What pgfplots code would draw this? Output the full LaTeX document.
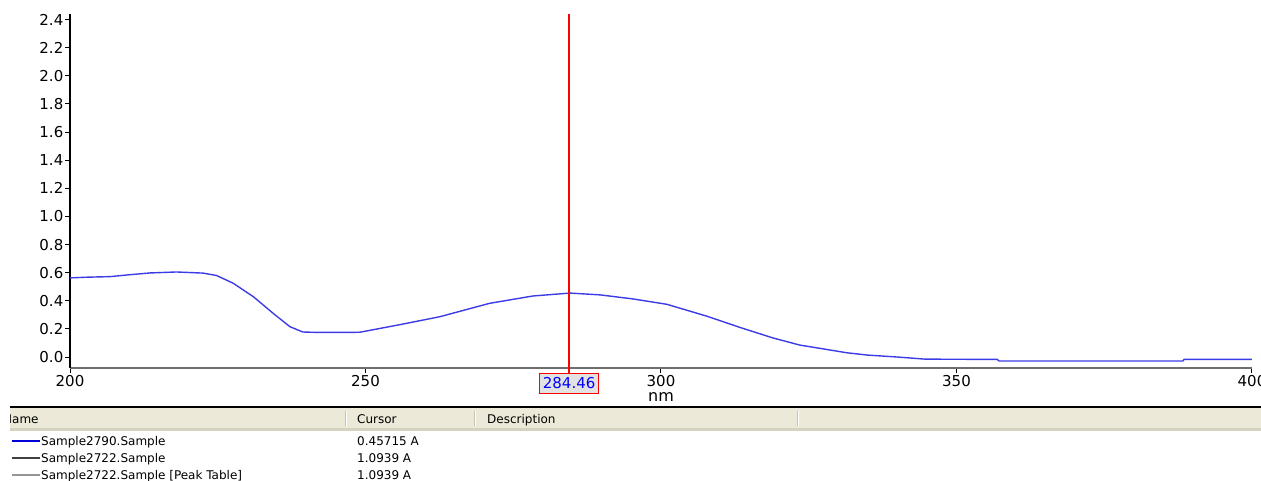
\documentclass[border=0pt]{standalone}
\usepackage{fontspec}
\setmainfont{DejaVu Sans}
\usepackage{pgfplots}
\pgfplotsset{compat=1.18}
\definecolor{curve}{RGB}{60,60,230}
\definecolor{cursorred}{RGB}{255,0,0}
\definecolor{beige}{RGB}{236,233,216}
\definecolor{beigedark}{RGB}{214,210,194}
\definecolor{sepc}{RGB}{199,195,178}
\definecolor{axgray}{RGB}{110,110,110}
\definecolor{boxfill}{RGB}{226,226,226}
\definecolor{dkgray}{RGB}{64,64,64}
\definecolor{ltgray}{RGB}{150,150,150}
\newcommand{\tickfont}{\fontsize{15}{17}\selectfont}
\newcommand{\tabfont}{\fontsize{12}{14}\selectfont}
\begin{document}
\begin{tikzpicture}
\useasboundingbox (0,0) rectangle (1261pt,481pt);
\fill[white] (0,0) rectangle (1261pt,481pt);
\begin{axis}[
  at={(70pt,113pt)}, anchor=south west,
  scale only axis, width=1182pt, height=354pt,
  xmin=200, xmax=400, ymin=-0.078, ymax=2.44,
  axis lines=left, clip=false,
  x axis line style={-, axgray, line width=2pt},
  y axis line style={-, black, line width=2pt},
  xtick={200,250,300,350,400},
  ytick={0,0.2,0.4,0.6,0.8,1.0,1.2,1.4,1.6,1.8,2.0,2.2,2.4},
  tick align=outside, major tick length=5pt,
  tick style={black, line width=1pt},
  xticklabel style={font=\tickfont, inner sep=2pt, /pgf/number format/assume math mode=true},
  yticklabel style={font=\tickfont, inner xsep=1.5pt, /pgf/number format/.cd, fixed, fixed zerofill, precision=1, assume math mode=true},
  xlabel={nm},
  xlabel style={at={(axis description cs:0.5,0)}, anchor=center, yshift=-29pt, font=\fontsize{16}{18}\selectfont, inner sep=0pt},
]
\addplot[color=curve, line width=1.4pt] table {
x y
200 0.563
203 0.568
206.8 0.572
210 0.585
213.5 0.598
218 0.605
222.5 0.597
224.8 0.58
227.6 0.525
231 0.43
234.4 0.31
237.2 0.216
239.4 0.178
242 0.175
249 0.176
255.8 0.23
262.6 0.287
271 0.382
278.3 0.434
284.6 0.455
289.7 0.442
295.3 0.413
301 0.375
307.8 0.29
313.4 0.21
319 0.135
323.5 0.085
331.5 0.03
334.9 0.014
340 0.0
344.7 -0.015
356.9 -0.017
357.2 -0.028
388.3 -0.028
388.5 -0.017
400 -0.017
};
\addplot[color=cursorred, line width=1.8pt, forget plot] coordinates {(284.46,-0.114) (284.46,2.44)};
\node[draw=cursorred, fill=boxfill, text=blue, font=\tickfont, minimum width=59pt, minimum height=20pt, inner sep=0pt, anchor=north, yshift=-5pt] at (axis cs:284.46,-0.078) {284.46};
\end{axis}
\begin{scope}
\clip (10pt,0) rectangle (1261pt,76pt);
\fill[beige] (0,53pt) rectangle (1261pt,73pt);
\fill[beigedark] (0,50pt) rectangle (1261pt,53pt);
\draw[black, line width=1.5pt] (0,74pt) -- (1261pt,74pt);
\foreach \sx in {345,474,797} {
  \draw[sepc, line width=1pt] (\sx pt,55pt) -- (\sx pt,70pt);
  \draw[white, line width=1pt] (\sx pt+1pt,55pt) -- (\sx pt+1pt,70pt);
}
\node[anchor=base west, inner sep=0pt, font=\tabfont] at (3pt,57pt) {Name};
\node[anchor=base west, inner sep=0pt, font=\tabfont] at (357pt,57pt) {Cursor};
\node[anchor=base west, inner sep=0pt, font=\tabfont] at (487pt,57pt) {Description};
\draw[blue!85!black, line width=2pt] (12pt,40pt) -- (40pt,40pt);
\draw[dkgray, line width=2pt] (12pt,23pt) -- (40pt,23pt);
\draw[ltgray, line width=2pt] (12pt,6pt) -- (40pt,6pt);
\node[anchor=base west, inner sep=0pt, font=\tabfont] at (41pt,35pt) {Sample2790.Sample};
\node[anchor=base west, inner sep=0pt, font=\tabfont] at (41pt,18pt) {Sample2722.Sample};
\node[anchor=base west, inner sep=0pt, font=\tabfont] at (41pt,1pt) {Sample2722.Sample [Peak Table]};
\node[anchor=base west, inner sep=0pt, font=\tabfont] at (357pt,35pt) {0.45715 A};
\node[anchor=base west, inner sep=0pt, font=\tabfont] at (357pt,18pt) {1.0939 A};
\node[anchor=base west, inner sep=0pt, font=\tabfont] at (357pt,1pt) {1.0939 A};
\end{scope}
\end{tikzpicture}
\end{document}
